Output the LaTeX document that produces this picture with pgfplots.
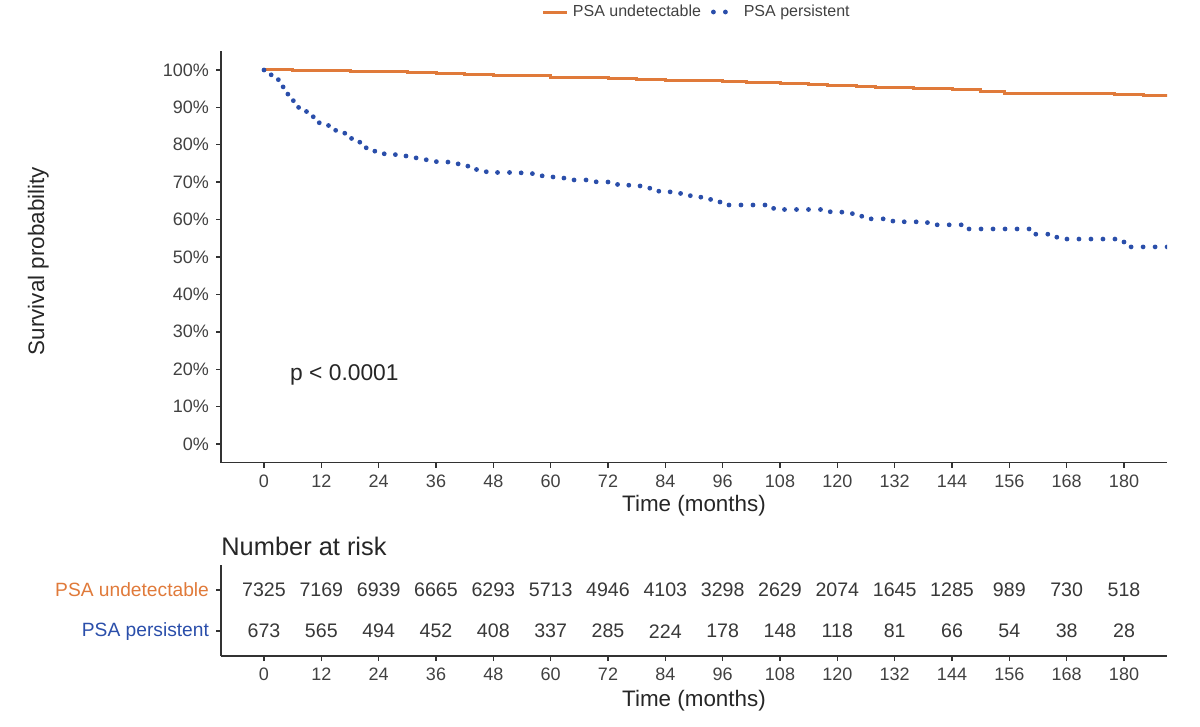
\documentclass[border=0pt]{standalone}
\usepackage{pgfplots}
\pgfplotsset{compat=1.18}
\usepackage{fontspec}
\setmainfont{Liberation Sans}

\definecolor{psaorange}{RGB}{224,122,58}
\definecolor{psablue}{RGB}{42,78,170}
\definecolor{axisgray}{RGB}{50,50,50}
\definecolor{labelgray}{RGB}{65,65,65}

\pgfplotsset{
  kmbase/.style={
    scale only axis,
    xmin=-9, xmax=189,
    axis x line*=bottom, axis y line*=left,
    axis line style={axisgray, line width=0.7pt},
    tick align=outside, major tick length=2.5pt,
    tick style={axisgray, line width=0.7pt},
    xtick={0,12,...,180},
    /pgf/number format/assume math mode=true,
    ticklabel style={font=\fontsize{9}{10}\selectfont, text=labelgray},
    label style={font=\fontsize{11.2}{13}\selectfont, text=black!85},
  },
}

\begin{document}
\begin{tikzpicture}
\useasboundingbox (0,0) rectangle (600pt,-363.5pt);

% Kaplan-Meier survival curves
\begin{axis}[kmbase,
  at={(110.5pt,-25.65pt)}, anchor=north west,
  width=473pt, height=205.7pt,
  ymin=-5, ymax=105,
  ytick={0,10,...,100},
  yticklabels={0\%,10\%,20\%,30\%,40\%,50\%,60\%,70\%,80\%,90\%,100\%},
  xlabel={Time (months)},
  ylabel={Survival probability},
  xlabel style={at={(axis description cs:0.5,-0.105)}, anchor=center},
  ylabel style={at={(axis description cs:-0.193,0.49)}, anchor=center},
  legend columns=2,
  legend style={at={(axis description cs:0.504,1.0955)}, anchor=center,
    draw=none, fill=none, font=\fontsize{8}{10}\selectfont, text=labelgray,
    /tikz/every even column/.append style={column sep=3pt}},
  legend image code/.code={\draw[#1] (0pt,0pt) -- (12pt,0pt);},
]
\addplot[psaorange, line width=1.5pt, const plot] coordinates {
  (0,100) (6,99.9) (12,99.8) (18,99.7) (24,99.5) (30,99.3) (36,99.1)
  (42,98.9) (48,98.6) (54,98.4) (60,98.1) (66,97.9) (72,97.7) (78,97.5)
  (84,97.3) (90,97.1) (96,96.9) (101,96.6) (108,96.4) (114,96.1)
  (118,95.9) (124,95.5) (128,95.2) (136,95.0) (144,94.7) (150,94.2)
  (155,93.8) (162,93.7) (168,93.6) (178,93.5) (184,93.2) (195,93.2)
};
\addlegendentry{PSA undetectable}
\addplot[psablue, line width=2.4pt, line cap=round,
  dash pattern=on 0pt off 6pt, const plot] coordinates {
  (0,100) (1.5,98.7) (3,96.2) (4,93.9) (5,91.8) (6.5,90.0) (8,88.9)
  (10,87.5) (11.5,85.9) (13.5,84.4) (15,83.1) (17,81.7) (19,80.7)
  (21,79.2) (23,78.3) (25,77.6) (27.5,77.0) (30,76.5) (32.5,76.0)
  (35.5,75.5) (38.5,74.9) (41,74.3) (43,73.4) (45.5,72.8) (48.5,72.6)
  (52,72.5) (55,72.3) (57,71.7) (59.5,71.4) (62,71.1) (64.5,70.6)
  (69.5,70.1) (72,69.4) (75,69.2) (77.5,69.0) (80,68.4) (82.5,67.6)
  (85,67.0) (87.5,66.4) (90,66.0) (92.5,65.4) (95,64.7) (97,63.9)
  (106,63.0) (108.5,62.7) (117,62.1) (120,62.0) (122.5,61.6) (124,60.9)
  (126,60.2) (131.5,59.6) (134,59.4) (137,59.2) (139.5,58.6) (147,57.5)
  (160.5,56.1) (165.5,55.3) (168,54.8) (180,52.7) (195,52.7)
};
\addlegendentry{PSA persistent}
\node[anchor=west, font=\fontsize{11.4}{13}\selectfont, text=black!85]
  at (axis cs:4,18.4) {p < 0.0001};
\end{axis}

% Number at risk table
\begin{axis}[kmbase,
  at={(110.5pt,-282.5pt)}, anchor=north west,
  width=473pt, height=45.5pt,
  ymin=0.4, ymax=2.6,
  ytick={1,2},
  yticklabels={\textcolor{psablue}{PSA persistent},\textcolor{psaorange}{PSA undetectable}},
  yticklabel style={font=\fontsize{9.6}{11}\selectfont},
  xlabel={Time (months)},
  xlabel style={at={(axis description cs:0.5,-0.49)}, anchor=center},
  title={Number at risk},
  title style={at={(axis description cs:0,1.07)}, anchor=west,
    font=\fontsize{12.7}{14}\selectfont, text=black!85, inner sep=0pt},
  nodes near coords={\pgfplotspointmeta},
  point meta=explicit symbolic,
  every node near coord/.append style={anchor=center, yshift=0pt,
    font=\fontsize{9.8}{11}\selectfont, text=black!78},
]
\addplot[draw=none, mark=none] table[meta=n] {
x   y n
0   2 7325
12  2 7169
24  2 6939
36  2 6665
48  2 6293
60  2 5713
72  2 4946
84  2 4103
96  2 3298
108 2 2629
120 2 2074
132 2 1645
144 2 1285
156 2 989
168 2 730
180 2 518
};
\addplot[draw=none, mark=none] table[meta=n] {
x   y n
0   1 673
12  1 565
24  1 494
36  1 452
48  1 408
60  1 337
72  1 285
84  1 224
96  1 178
108 1 148
120 1 118
132 1 81
144 1 66
156 1 54
168 1 38
180 1 28
};
\end{axis}
\end{tikzpicture}
\end{document}
